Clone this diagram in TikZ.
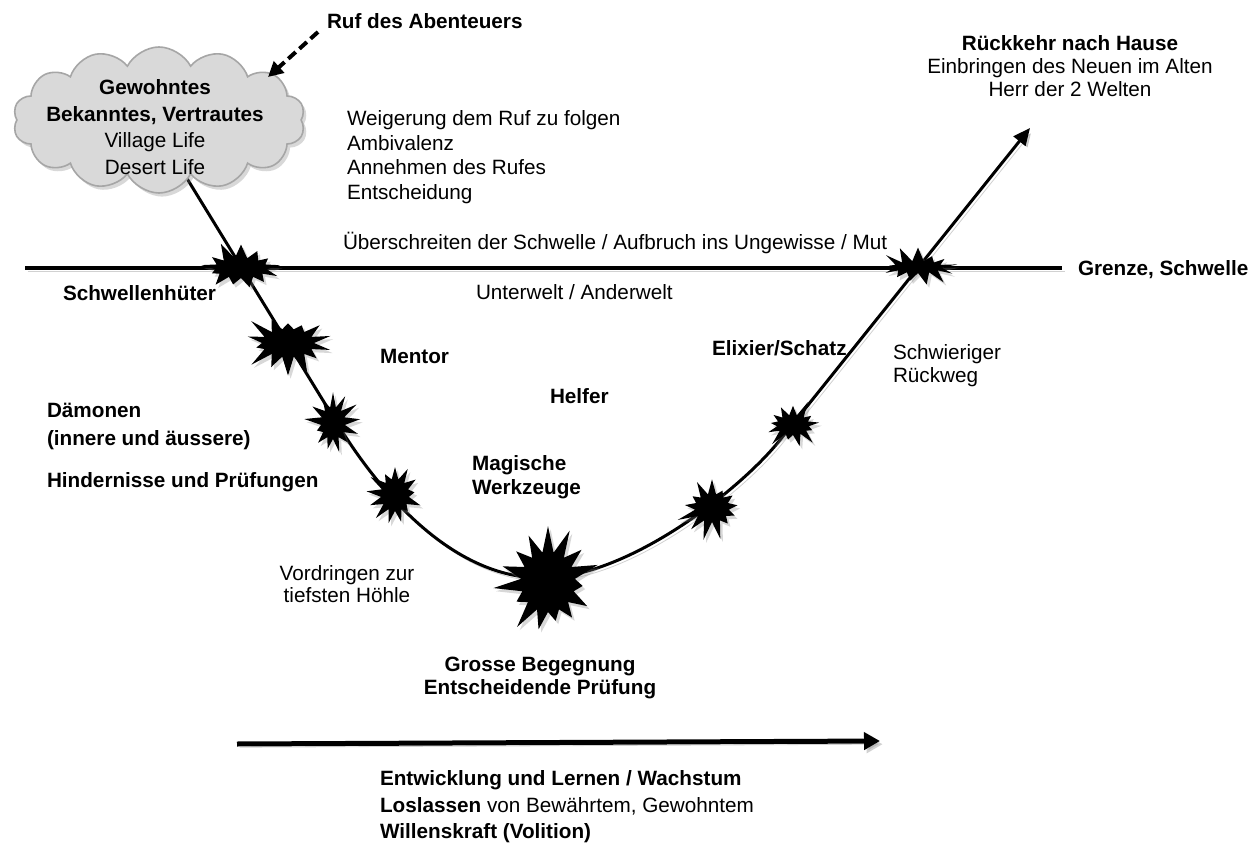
\documentclass[tikz,border=0pt]{standalone}
\usepackage{fontspec}
\setmainfont{Liberation Sans}
\usetikzlibrary{shapes.symbols,arrows.meta,shadows}
\definecolor{cloudfill}{HTML}{D9D9D9}
\definecolor{cloudline}{HTML}{A6A6A6}
\newcommand\fsz[1]{\fontsize{10.35}{#1}\selectfont}
\begin{document}
\begin{tikzpicture}[x=0.5pt,y=-0.5pt,
  every node/.style={inner sep=0pt, outer sep=0pt, font=\fsz{12.25}},
  lbl/.style={anchor=west},
  bold/.style={font=\fsz{12.25}\bfseries},
  shad/.style={preaction={draw=black!40, opacity=0.45, transform canvas={xshift=1.3pt,yshift=-1.6pt}}},
  mainline/.style={line width=1.5pt, shad},
  burst/.style={starburst, fill=black, draw=none, inner sep=0pt,
    drop shadow={shadow xshift=1.3pt,shadow yshift=-1.6pt,opacity=.3}},
]
\fill[white] (0,0) rectangle (1251,849);
\useasboundingbox (0,0) rectangle (1251,849);

% coordinates
\coordinate (hl) at (25,268);
\coordinate (hr) at (1062,268);
\coordinate (p0) at (183,172);
\coordinate (p1) at (335,420);
\coordinate (p2) at (545,578);
\coordinate (p3) at (780,440);
\coordinate (tip) at (1030,128);
\coordinate (rufs) at (318,32);
\coordinate (ruft) at (268,77);
\coordinate (bl) at (237,744);
\coordinate (br) at (880,741);

% threshold line
\draw[line width=2pt, shad] (hl) -- (hr);

% hero path
\draw[mainline, -{Triangle[length=8.5pt,width=7.5pt]}] (p0) -- (p1)
  .. controls (375,486) and (450,580) .. (p2)
  .. controls (630,576) and (740,490) .. (p3) -- (tip);

% starbursts
\node[burst, minimum width=44pt, minimum height=28pt, starburst point height=9pt, starburst points=13, random starburst=11] (s1) at (241,268) {};
\node[burst, minimum width=48pt, minimum height=36pt, starburst point height=11pt, starburst points=14, random starburst=23] (s2) at (288,343) {};
\node[burst, minimum width=30pt, minimum height=34pt, starburst point height=9pt, starburst points=13, random starburst=37] (s3) at (333,423) {};
\node[burst, minimum width=32pt, minimum height=34pt, starburst point height=9pt, starburst points=13, random starburst=41] (s4) at (395,495) {};
\node[burst, minimum width=55pt, minimum height=58pt, starburst point height=14pt, starburst points=15, random starburst=53] (s5) at (548,582) {};
\node[burst, minimum width=37pt, minimum height=34pt, starburst point height=10pt, starburst points=13, random starburst=67] (s6) at (712,508) {};
\node[burst, minimum width=32pt, minimum height=26pt, starburst point height=8pt, starburst points=13, random starburst=71] (s7) at (793,425) {};
\node[burst, minimum width=40pt, minimum height=22pt, starburst point height=8pt, starburst points=13, random starburst=83] (s8) at (918,267) {};

% cloud
\node[cloud, cloud puffs=14, cloud puff arc=125, aspect=2, minimum width=146pt, minimum height=73pt,
  fill=cloudfill, draw=cloudline, line width=0.8pt,
  drop shadow={shadow xshift=1.5pt,shadow yshift=-1.8pt,opacity=.3}] (cloud) at (159,120) {};
\node[align=center, font=\fsz{13.3}] (cloudtxt) at (155,127)
  {\textbf{Gewohntes}\\\textbf{Bekanntes, Vertrautes}\\Village Life\\Desert Life};

% call arrow
\draw[line width=2pt, dash pattern=on 5pt off 2.5pt, -{Triangle[length=7.5pt,width=7.5pt]}] (rufs) -- (ruft);
\node[bold, lbl] (ruf) at (327,21) {Ruf des Abenteuers};

% texts
\node[lbl, align=left, font=\fsz{12.25}] (weig) at (347,157)
  {Weigerung dem Ruf zu folgen\\Ambivalenz\\Annehmen des Rufes\\Entscheidung};
\node[lbl] (ueber) at (343,243) {Überschreiten der Schwelle / Aufbruch ins Ungewisse / Mut};
\node[lbl] (unter) at (476,292) {Unterwelt / Anderwelt};
\node[bold, lbl] (grenze) at (1078,270) {Grenze, Schwelle};
\node[bold, lbl] (hueter) at (63,293) {Schwellenhüter};
\node[bold, lbl] (mentor) at (380,356) {Mentor};
\node[bold, lbl] (helfer) at (550,396) {Helfer};
\node[lbl, align=left, font=\fsz{14}\bfseries] (daemon) at (47,426) {Dämonen\\(innere und äussere)};
\node[bold, lbl] (hind) at (47,482) {Hindernisse und Prüfungen};
\node[lbl, align=left, font=\fsz{12}\bfseries] (magic) at (472,477) {Magische\\Werkzeuge};
\node[align=center, font=\fsz{11}] (vord) at (347,584) {Vordringen zur\\tiefsten Höhle};
\node[align=center, font=\fsz{11.2}\bfseries] (grosse) at (540,678) {Grosse Begegnung\\Entscheidende Prüfung};
\node[bold, lbl] (elix) at (712,348) {Elixier/Schatz};
\node[lbl, align=left, font=\fsz{11.5}] (schw) at (893,366) {Schwieriger\\Rückweg};
\node[align=center, font=\fsz{11.5}] (rueck) at (1070,66)
  {\textbf{Rückkehr nach Hause}\\Einbringen des Neuen im Alten\\Herr der 2 Welten};

% growth arrow
\draw[line width=2.5pt, shad, -{Triangle[length=8pt,width=8.5pt]}] (bl) -- (br);
\node[lbl, align=left, font=\fsz{13.25}] (grow) at (380,807)
  {\textbf{Entwicklung und Lernen / Wachstum}\\\textbf{Loslassen} von Bewährtem, Gewohntem\\\textbf{Willenskraft (Volition)}};
\end{tikzpicture}
\end{document}
